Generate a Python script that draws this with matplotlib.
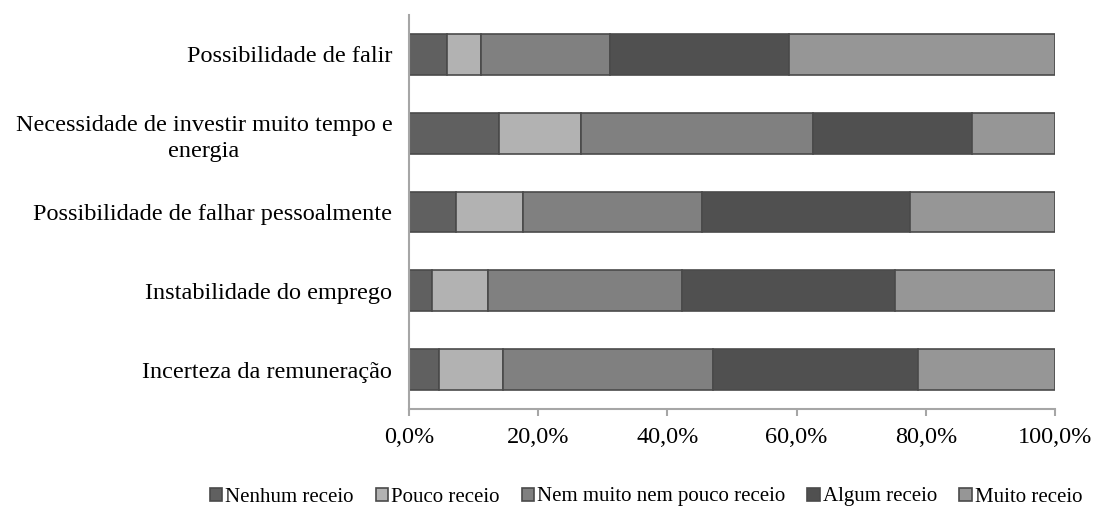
import matplotlib
matplotlib.use('Agg')
import matplotlib.pyplot as plt
import numpy as np

plt.rcParams['font.family'] = ['Liberation Serif', 'DejaVu Serif']

# Categorias (de baixo para cima)
categorias = ['Incerteza da remuneração',
              'Instabilidade do emprego',
              'Possibilidade de falhar pessoalmente',
              'Necessidade de investir muito tempo e\nenergia',
              'Possibilidade de falir']

series = ['Nenhum receio', 'Pouco receio', 'Nem muito nem pouco receio',
          'Algum receio', 'Muito receio']

# Percentagens por série (mesma ordem das categorias)
nenhum = [4.6, 3.6, 7.2, 14.0, 5.9]
pouco = [10.0, 8.6, 10.5, 12.6, 5.2]
nem = [32.5, 30.0, 27.7, 35.9, 20.0]
algum = [31.7, 33.0, 32.1, 24.6, 27.8]
muito = [21.2, 24.8, 22.5, 12.9, 41.1]

cores = ['#606060', '#b2b2b2', '#808080', '#505050', '#969696']

fs = 17.5

fig = plt.figure(figsize=(10.94, 5.27), dpi=100)
ax = fig.add_axes([409 / 1094, 1 - 409 / 527, (1055 - 409) / 1094, (409 - 15) / 527])

y = np.arange(len(categorias))
left = np.zeros(len(categorias))
for nome, vals, cor in zip(series, [nenhum, pouco, nem, algum, muito], cores):
    ax.barh(y, vals, left=left, height=0.52, color=cor, edgecolor='#4a4a4a',
            linewidth=1.2, label=nome)
    left += np.array(vals)

ax.set_xlim(0, 100)
ax.set_ylim(-0.5, 4.5)
ax.set_xticks(np.arange(0, 101, 20))
ax.set_xticklabels([f'{v:.1f}%'.replace('.', ',') for v in np.arange(0, 101, 20)])
ax.set_yticks(y)
ax.set_yticklabels(categorias)
for lbl in ax.get_yticklabels():
    lbl.set_multialignment('center')
    lbl.set_linespacing(1.3)

for s in ['top', 'right']:
    ax.spines[s].set_visible(False)
ax.spines['left'].set_color('#a6a6a6')
ax.spines['bottom'].set_color('#a6a6a6')
ax.spines['left'].set_linewidth(1.5)
ax.spines['bottom'].set_linewidth(1.5)
ax.tick_params(axis='y', length=0, pad=12, labelsize=fs)
ax.tick_params(axis='x', length=5, width=1.5, color='#a6a6a6', pad=8, labelsize=fs)

fig.legend(loc='center', bbox_to_anchor=(646 / 1094, 1 - 497 / 527), ncol=5,
           frameon=False, fontsize=15, handlelength=0.6, handleheight=0.6,
           handletextpad=0.15, columnspacing=1.05)

fig.savefig('out.png', dpi=100)
